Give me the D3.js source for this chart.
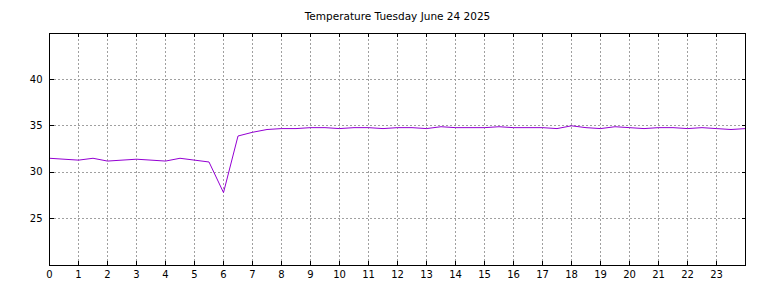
<!DOCTYPE html>
<html>
<head>
<meta charset="utf-8">
<script src="https://cdn.jsdelivr.net/npm/d3@7"></script>
<style>
    body { margin: 0; background: #fff; }
    svg { display: block; font-family: "DejaVu Sans", sans-serif; }
</style>
</head>
<body>
<svg width="768" height="288"></svg>
<script>
"use strict";

// half hourly readings, 0:00 .. 24:00
const hours = d3.range(0, 24.5, 0.5);
const temps = [
    31.5, 31.4, 31.3, 31.5, 31.2, 31.3, 31.4, 31.3, 31.2, 31.5,
    31.3, 31.1, 27.8, 33.9, 34.3, 34.6, 34.7, 34.7, 34.8, 34.8,
    34.7, 34.8, 34.8, 34.7, 34.8, 34.8, 34.7, 34.9, 34.8, 34.8,
    34.8, 34.9, 34.8, 34.8, 34.8, 34.7, 35.0, 34.8, 34.7, 34.9,
    34.8, 34.7, 34.8, 34.8, 34.7, 34.8, 34.7, 34.6, 34.7
];
const xTicks = d3.range(0, 24);
const yTicks = [25, 30, 35, 40];
const title = "Temperature Tuesday June 24 2025";

const chart = d3.select("svg");
const width = 768,
      padding = { top: 33, right: 22.5, bottom: 23, left: 49.5 },
      height = 288,
      tickLen = 4;

let scaleX = d3.scaleLinear()
    .domain([0, 24])
    .range([padding.left, width - padding.right]);

let scaleY = d3.scaleLinear()
    .domain([20, 45])
    .range([height - padding.bottom, padding.top]);

let plotW = scaleX.range()[1] - scaleX.range()[0],
    plotH = scaleY.range()[0] - scaleY.range()[1];

// grid
chart.append("g")
    .attr("class", "grid")
    .attr("transform", `translate(0, ${scaleY.range()[0]})`)
    .call(d3.axisBottom(scaleX).offset(0).tickValues(xTicks.filter(d => d > 0)).tickSize(-plotH).tickFormat(""));
chart.append("g")
    .attr("class", "grid")
    .attr("transform", `translate(${scaleX.range()[0]}, 0)`)
    .call(d3.axisLeft(scaleY).offset(0).tickValues(yTicks).tickSize(-plotW).tickFormat(""));
chart.selectAll("g.grid .domain").remove();
chart.selectAll("g.grid line")
    .attr("stroke", "#a0a0a0")
    .attr("stroke-dasharray", "2, 2")
    .attr("shape-rendering", "crispEdges");

// the temperature line
let line = d3.line()
    .x((d, i) => scaleX(hours[i]))
    .y(d => scaleY(d));

chart.append("path")
    .datum(temps)
    .attr("d", line)
    .attr("fill", "none")
    .attr("stroke", "#9400d3")
    .attr("stroke-width", 1);

// axes with inward ticks
chart.append("g")
    .attr("transform", `translate(0, ${scaleY.range()[0]})`)
    .call(d3.axisBottom(scaleX).offset(0).tickValues(xTicks).tickSize(-tickLen).tickPadding(6));
chart.append("g")
    .attr("transform", `translate(${scaleX.range()[0]}, 0)`)
    .call(d3.axisLeft(scaleY).offset(0).tickValues(yTicks).tickSize(-tickLen).tickPadding(7));

// mirrored ticks on top and right
chart.append("g")
    .attr("transform", `translate(0, ${scaleY.range()[1]})`)
    .call(d3.axisTop(scaleX).offset(0).tickValues(xTicks).tickSize(-tickLen).tickFormat(""));
chart.append("g")
    .attr("transform", `translate(${scaleX.range()[1]}, 0)`)
    .call(d3.axisRight(scaleY).offset(0).tickValues(yTicks).tickSize(-tickLen).tickFormat(""));

chart.selectAll(".domain").remove();
chart.selectAll(".tick line").attr("shape-rendering", "crispEdges");
chart.selectAll(".tick text")
    .attr("font-family", "DejaVu Sans, sans-serif")
    .attr("font-size", 10)
    .attr("fill", "#000");

// frame
chart.append("rect")
    .attr("x", scaleX.range()[0])
    .attr("y", scaleY.range()[1])
    .attr("width", plotW)
    .attr("height", plotH)
    .attr("fill", "none")
    .attr("stroke", "#000")
    .attr("stroke-width", 1)
    .attr("shape-rendering", "crispEdges");

// title
chart.append("text")
    .attr("x", (scaleX.range()[0] + scaleX.range()[1]) / 2)
    .attr("y", 20)
    .attr("text-anchor", "middle")
    .attr("font-size", 10.5)
    .text(title);
</script>
</body>
</html>
